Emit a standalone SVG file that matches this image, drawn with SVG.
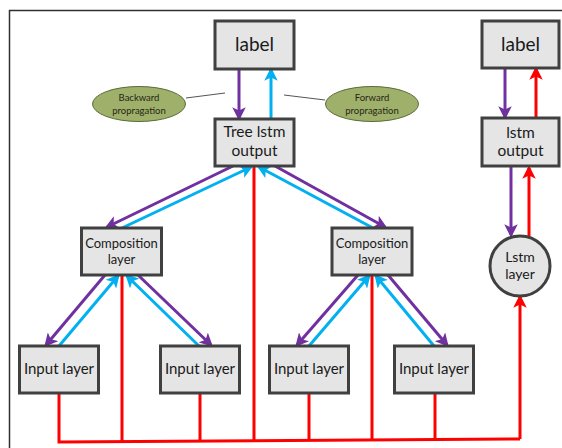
<svg xmlns="http://www.w3.org/2000/svg" width="562" height="448" viewBox="0 0 562 448">
  <style>
    .box { fill: #e5e5e5; stroke: #404040; stroke-width: 3; }
    .note { fill: #9fb06a; stroke: #5a6b3a; stroke-width: 1; }
    .t { font-family: Lato, "Open Sans", sans-serif; fill: #1a1a1a; text-anchor: middle; }
    .tn { font-family: Lato, "Open Sans", sans-serif; fill: #262618; text-anchor: middle; font-size: 9.5px; }
    .p { stroke: #7030a0; stroke-width: 3; fill: none; marker-end: url(#ahP); }
    .b { stroke: #00b0f0; stroke-width: 3; fill: none; marker-end: url(#ahB); }
    .r { stroke: #ff0000; stroke-width: 3; fill: none; }
    .ra { stroke: #ff0000; stroke-width: 3; fill: none; marker-end: url(#ahR); }
    .lead { stroke: #555; stroke-width: 1; fill: none; }
  </style>
  <defs>
    <marker id="ahP" markerWidth="4.5" markerHeight="4.5" refX="3.6" refY="2.25" orient="auto" markerUnits="strokeWidth">
      <path d="M0,0 L4.5,2.25 L0,4.5 L1.1,2.25 Z" fill="#7030a0"/>
    </marker>
    <marker id="ahB" markerWidth="4.5" markerHeight="4.5" refX="3.6" refY="2.25" orient="auto" markerUnits="strokeWidth">
      <path d="M0,0 L4.5,2.25 L0,4.5 L1.1,2.25 Z" fill="#00b0f0"/>
    </marker>
    <marker id="ahR" markerWidth="4.5" markerHeight="4.5" refX="3.6" refY="2.25" orient="auto" markerUnits="strokeWidth">
      <path d="M0,0 L4.5,2.25 L0,4.5 L1.1,2.25 Z" fill="#ff0000"/>
    </marker>
  </defs>

  <rect width="562" height="448" fill="#ffffff"/>
  <!-- frame -->
  <path d="M9.5,448 L9.5,10.5 L562,10.5" fill="none" stroke="#303030" stroke-width="1.5"/>

  <!-- connectors -->
  <g id="connectors">
    <!-- red forward path from the inputs -->
    <path class="r" d="M59,393 L59,442 L520,439"/>
    <path class="r" d="M122,275 L122,442"/>
    <path class="r" d="M200,393 L200,441"/>
    <path class="r" d="M254,166 L254,441"/>
    <path class="r" d="M309,393 L309,440"/>
    <path class="r" d="M372,275 L372,440"/>
    <path class="r" d="M435,393 L435,439"/>
    <path class="ra" d="M520,439 L520,297"/>

    <!-- tree lstm output <-> label -->
    <path class="p" d="M239,69 L239,118"/>
    <path class="b" d="M271,119 L271,70"/>

    <!-- lstm chain on the right -->
    <path class="p" d="M505,68 L505,117"/>
    <path class="ra" d="M536,118 L536,69"/>
    <path class="p" d="M511,167 L511,235"/>
    <path class="ra" d="M529,237 L529,168"/>

    <!-- tree lstm output <-> composition layers -->
    <path class="p" d="M233,166 L107,227"/>
    <path class="b" d="M122,228 L251,167"/>
    <path class="b" d="M373,228 L259,167"/>
    <path class="p" d="M275,166 L385,227"/>

    <!-- left composition layer <-> inputs -->
    <path class="p" d="M105,275 L46,345"/>
    <path class="b" d="M59,346 L118,276"/>
    <path class="b" d="M199,346 L127,276"/>
    <path class="p" d="M138,275 L211,345"/>

    <!-- right composition layer <-> inputs -->
    <path class="p" d="M358,275 L297,345"/>
    <path class="b" d="M309,346 L369,276"/>
    <path class="b" d="M434,346 L376,276"/>
    <path class="p" d="M388,275 L447,345"/>

    <!-- callout leaders -->
    <path class="lead" d="M186,98 L225,93"/>
    <path class="lead" d="M284,95 L325,100"/>
  </g>

  <g id="label-tree">
    <rect class="box" x="215" y="21" width="79" height="48"/>
    <text class="t" x="254.5" y="51" font-size="19">label</text>
  </g>
  <g id="label-lstm">
    <rect class="box" x="482" y="21" width="77" height="47"/>
    <text class="t" x="520.5" y="51" font-size="19">label</text>
  </g>
  <g id="tree-lstm-output">
    <rect class="box" x="215" y="119" width="79" height="47"/>
    <text class="t" x="254.5" y="137" font-size="15.5">Tree lstm</text>
    <text class="t" x="254.5" y="156" font-size="15.5">output</text>
  </g>
  <g id="lstm-output">
    <rect class="box" x="482" y="118" width="77" height="48"/>
    <text class="t" x="520.5" y="138" font-size="15.5">lstm</text>
    <text class="t" x="520.5" y="156" font-size="15.5">output</text>
  </g>
  <g id="lstm-layer">
    <circle cx="520" cy="266" r="30" fill="#e5e5e5" stroke="#404040" stroke-width="3"/>
    <text class="t" x="520" y="262" font-size="14">Lstm</text>
    <text class="t" x="520" y="279" font-size="14">layer</text>
  </g>
  <g id="backward-note">
    <ellipse class="note" cx="139" cy="104" rx="46.5" ry="17.5"/>
    <text class="tn" x="139" y="101">Backward</text>
    <text class="tn" x="139" y="114">propragation</text>
  </g>
  <g id="forward-note">
    <ellipse class="note" cx="372" cy="104" rx="46.5" ry="17.5"/>
    <text class="tn" x="372" y="101">Forward</text>
    <text class="tn" x="372" y="114">propragation</text>
  </g>
  <g id="composition-left">
    <rect class="box" x="81.5" y="228" width="80" height="47"/>
    <text class="t" x="121.5" y="248" font-size="13">Composition</text>
    <text class="t" x="121.5" y="264" font-size="13">layer</text>
  </g>
  <g id="composition-right">
    <rect class="box" x="332" y="228" width="80" height="47"/>
    <text class="t" x="372" y="248" font-size="13">Composition</text>
    <text class="t" x="372" y="264" font-size="13">layer</text>
  </g>
  <g id="input-1">
    <rect class="box" x="19.5" y="346" width="79" height="47"/>
    <text class="t" x="59" y="374" font-size="15">Input layer</text>
  </g>
  <g id="input-2">
    <rect class="box" x="160.5" y="346" width="79" height="47"/>
    <text class="t" x="200" y="374" font-size="15">Input layer</text>
  </g>
  <g id="input-3">
    <rect class="box" x="269.5" y="346" width="79" height="47"/>
    <text class="t" x="309" y="374" font-size="15">Input layer</text>
  </g>
  <g id="input-4">
    <rect class="box" x="394.5" y="346" width="79" height="47"/>
    <text class="t" x="434" y="374" font-size="15">Input layer</text>
  </g>
</svg>
